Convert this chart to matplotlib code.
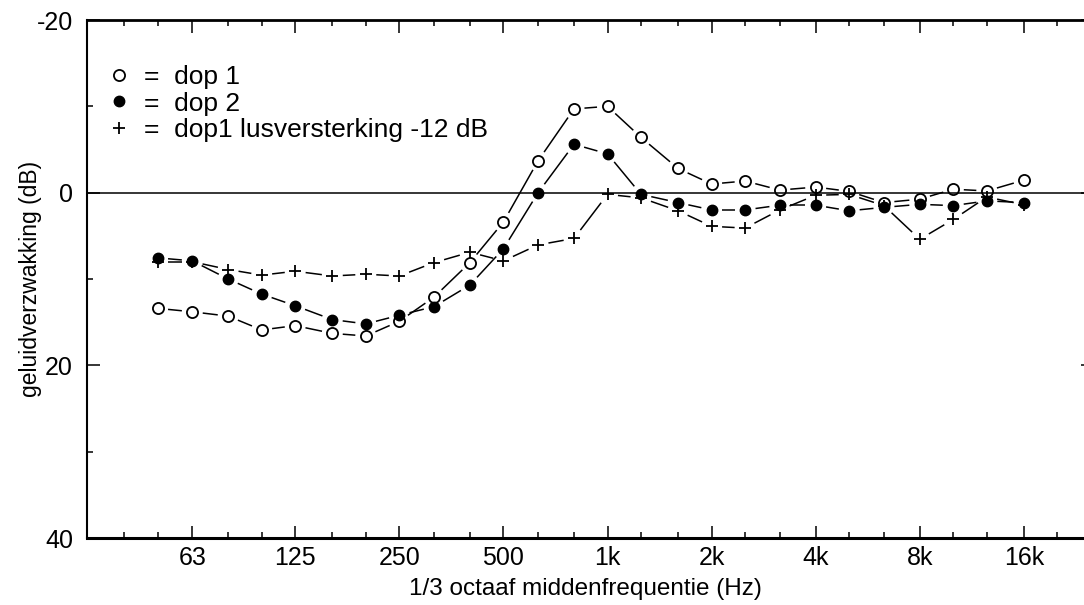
import numpy as np
import matplotlib.pyplot as plt
from matplotlib.lines import Line2D

plt.rcParams['font.family'] = ['Liberation Sans', 'DejaVu Sans']
plt.rcParams['axes.unicode_minus'] = False  # gewoon '-' teken zoals in het origineel

# 1/3 octaaf middenfrequenties (Hz)
freq = [50, 63, 80, 100, 125, 160, 200, 250, 315, 400, 500, 630, 800,
        1000, 1250, 1600, 2000, 2500, 3150, 4000, 5000, 6300, 8000,
        10000, 12500, 16000]

# geluidverzwakking (dB)
dop1 = [13.4, 13.8, 14.3, 15.9, 15.4, 16.3, 16.6, 14.9, 12.1, 8.1, 3.4, -3.7,
        -9.7, -10.0, -6.4, -2.8, -1.0, -1.35, -0.3, -0.65, -0.15, 1.15, 0.75,
        -0.4, -0.2, -1.45]
dop2 = [7.55, 7.9, 10.0, 11.75, 13.1, 14.7, 15.2, 14.2, 13.2, 10.7, 6.5, 0.0,
        -5.6, -4.5, 0.2, 1.15, 2.0, 2.0, 1.45, 1.45, 2.1, 1.7, 1.35, 1.5,
        0.95, 1.15]
dop1_lus = [8.0, 8.0, 8.9, 9.55, 9.1, 9.65, 9.45, 9.65, 8.1, 6.9, 7.9, 6.05,
            5.3, 0.2, 0.6, 2.1, 3.9, 4.1, 2.0, 0.3, 0.2, 1.5, 5.4, 3.1, 0.5, 1.4]

# as-indeling
major_freq = [63, 125, 250, 500, 1000, 2000, 4000, 8000, 16000]
major_labels = ['63', '125', '250', '500', '1k', '2k', '4k', '8k', '16k']
minor_freq = [40, 50, 80, 100, 160, 200, 315, 400, 630, 800, 1250, 1600,
              2500, 3150, 5000, 6300, 10000, 12500, 20000]
y_major = [-20, 0, 20, 40]
y_minor = [-10, 10, 30]

GAP = 10.5  # vrije ruimte (px) rond elk meetpunt


def gapped_line(ax, x, y, lw=1.1):
    # lijnstukken tussen de punten, ingekort zodat de markers vrij staan
    pts = ax.transData.transform(np.column_stack([x, y]))
    inv = ax.transData.inverted()
    for p0, p1 in zip(pts[:-1], pts[1:]):
        d = p1 - p0
        n = np.hypot(d[0], d[1])
        if n <= 2 * GAP:
            continue
        u = d / n
        seg = inv.transform(np.array([p0 + u * GAP, p1 - u * GAP]))
        ax.plot(seg[:, 0], seg[:, 1], color='black', lw=lw,
                solid_capstyle='butt', zorder=2)


fig = plt.figure(figsize=(10.84, 6.05), dpi=100)
ax = fig.add_axes([87 / 1084, 1 - 538 / 605, 1006.3 / 1084, 518 / 605])

ax.set_xscale('log')
ax.set_xlim(1000 * 2 ** (-5), 1000 * 2 ** (14 / 3))
ax.set_ylim(40, -20)

ax.axhline(0, color='black', lw=1.1, zorder=1)

for vals in [dop1, dop2, dop1_lus]:
    gapped_line(ax, freq, vals)

ax.plot(freq, dop1, ls='none', marker='o', mfc='none', mec='black',
        ms=8, mew=1.3, zorder=3)
ax.plot(freq, dop2, ls='none', marker='o', mfc='black', mec='black',
        ms=7.5, mew=1, zorder=3)
ax.plot(freq, dop1_lus, ls='none', marker='+', color='black',
        ms=9, mew=1.3, zorder=3)

# ticks
ax.set_xticks(major_freq)
ax.set_xticklabels(major_labels)
ax.set_xticks(minor_freq, minor=True)
ax.xaxis.set_minor_formatter(plt.NullFormatter())
ax.set_yticks(y_major)
ax.set_yticks(y_minor, minor=True)
ax.tick_params(axis='both', which='both', direction='in', width=1.1,
               top=True, right=True, labelsize=18, colors='black')
ax.tick_params(axis='both', which='major', length=9)
ax.tick_params(axis='both', which='minor', length=4.5)
ax.tick_params(axis='x', pad=6)
ax.tick_params(axis='y', pad=10)

ax.spines['top'].set_linewidth(2)
ax.spines['bottom'].set_linewidth(2.2)
ax.spines['left'].set_linewidth(1.5)
ax.spines['right'].set_visible(False)

ax.set_xlabel('1/3 octaaf middenfrequentie (Hz)', fontsize=17.5)
ax.xaxis.set_label_coords(0.495, -0.077)
ax.set_ylabel('geluidverzwakking (dB)', fontsize=16.5)
ax.yaxis.set_label_coords(-0.045, 0.5)

# legenda
handles = [
    Line2D([], [], ls='none', marker='o', mfc='none', mec='black', ms=8, mew=1.3),
    Line2D([], [], ls='none', marker='o', mfc='black', mec='black', ms=7.5),
    Line2D([], [], ls='none', marker='+', color='black', ms=9, mew=1.3),
]
labels = ['=  dop 1', '=  dop 2', '=  dop1 lusversterking -12 dB']
ax.legend(handles, labels, loc='upper left', bbox_to_anchor=(0.0229, 0.913),
          frameon=False, fontsize=19, handlelength=0.7, handletextpad=0.6,
          labelspacing=0.1, borderaxespad=0, borderpad=0)

fig.savefig('out.png', dpi=100)
